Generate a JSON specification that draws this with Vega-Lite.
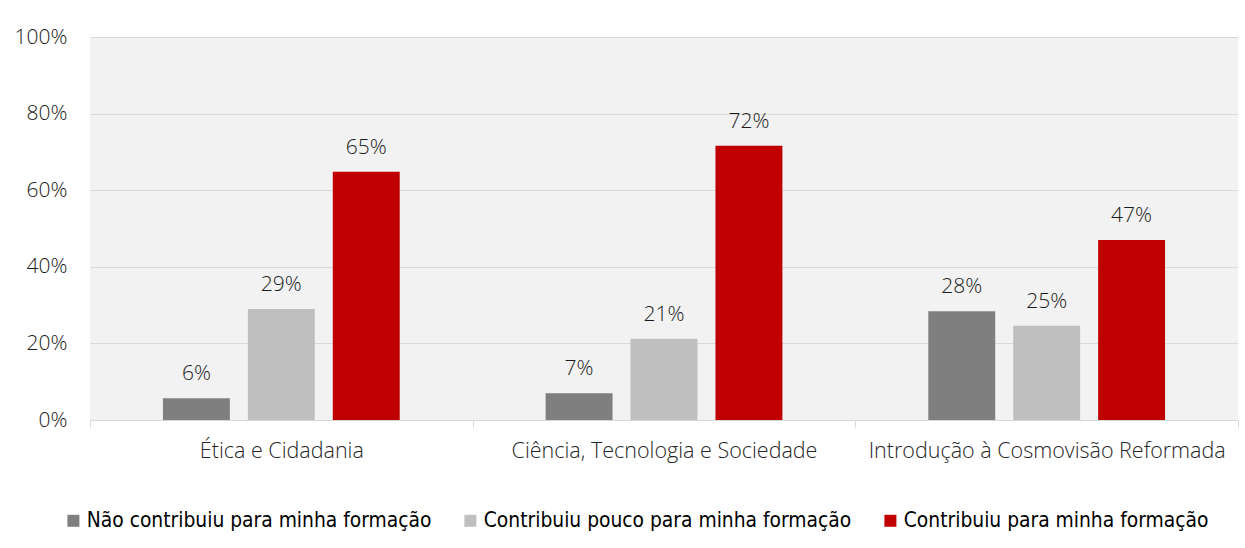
{
  "$schema": "https://vega.github.io/schema/vega-lite/v6.json",
  "width": 1148,
  "height": 383,
  "autosize": {"type": "none"},
  "padding": {"left": 90, "top": 37, "right": 7, "bottom": 128},
  "background": "white",
  "config": {
    "view": {"fill": "#f2f2f2", "stroke": null},
    "font": "Open Sans"
  },
  "data": {
    "values": [
      {"disciplina": "Ética e Cidadania", "resposta": "Não contribuiu para minha formação", "valor": 0.057},
      {"disciplina": "Ética e Cidadania", "resposta": "Contribuiu pouco para minha formação", "valor": 0.29},
      {"disciplina": "Ética e Cidadania", "resposta": "Contribuiu para minha formação", "valor": 0.648},
      {"disciplina": "Ciência, Tecnologia e Sociedade", "resposta": "Não contribuiu para minha formação", "valor": 0.07},
      {"disciplina": "Ciência, Tecnologia e Sociedade", "resposta": "Contribuiu pouco para minha formação", "valor": 0.212},
      {"disciplina": "Ciência, Tecnologia e Sociedade", "resposta": "Contribuiu para minha formação", "valor": 0.716},
      {"disciplina": "Introdução à Cosmovisão Reformada", "resposta": "Não contribuiu para minha formação", "valor": 0.284},
      {"disciplina": "Introdução à Cosmovisão Reformada", "resposta": "Contribuiu pouco para minha formação", "valor": 0.246},
      {"disciplina": "Introdução à Cosmovisão Reformada", "resposta": "Contribuiu para minha formação", "valor": 0.47}
    ]
  },
  "encoding": {
    "x": {
      "field": "disciplina",
      "type": "nominal",
      "sort": null,
      "scale": {"paddingInner": 0, "paddingOuter": 0},
      "axis": {
        "title": null,
        "labelAngle": 0,
        "labelFontSize": 21.5,
        "labelFontWeight": 300,
        "labelColor": "#262626",
        "labelLimit": 0,
        "labelPadding": 13,
        "domainColor": "#d9d9d9",
        "domainWidth": 1,
        "tickColor": "#d9d9d9",
        "tickSize": 7,
        "tickBand": "extent",
        "grid": false
      }
    },
    "xOffset": {
      "field": "resposta",
      "type": "nominal",
      "sort": null,
      "scale": {"paddingInner": 0.212, "paddingOuter": 0.859}
    },
    "y": {
      "field": "valor",
      "type": "quantitative",
      "scale": {"domain": [0, 1]},
      "axis": {
        "title": null,
        "format": ".0%",
        "values": [0, 0.2, 0.4, 0.6, 0.8, 1],
        "labelFontSize": 21,
        "labelFontWeight": 300,
        "labelColor": "#1a1a1a",
        "labelPadding": 23,
        "domain": false,
        "ticks": false,
        "gridColor": "#d9d9d9",
        "gridWidth": 1
      }
    }
  },
  "layer": [
    {
      "mark": {"type": "bar"},
      "encoding": {
        "color": {
          "field": "resposta",
          "type": "nominal",
          "sort": null,
          "scale": {
            "domain": ["Não contribuiu para minha formação", "Contribuiu pouco para minha formação", "Contribuiu para minha formação"],
            "range": ["#7f7f7f", "#bfbfbf", "#c00000"]
          },
          "legend": {
            "title": null,
            "orient": "none",
            "direction": "horizontal",
            "legendX": -27,
            "legendY": 473,
            "symbolType": "square",
            "symbolSize": 144,
            "symbolStrokeWidth": 0,
            "labelFont": "DejaVu Sans Condensed",
            "labelFontSize": 20.8,
            "labelColor": "#000000",
            "labelLimit": 0,
            "columnPadding": 28,
            "labelOffset": 3
          }
        }
      }
    },
    {
      "mark": {"type": "text", "baseline": "alphabetic", "dy": -18, "fontSize": 21, "fontWeight": 300, "color": "#1a1a1a"},
      "encoding": {
        "text": {"field": "valor", "type": "quantitative", "format": ".0%"}
      }
    }
  ]
}
